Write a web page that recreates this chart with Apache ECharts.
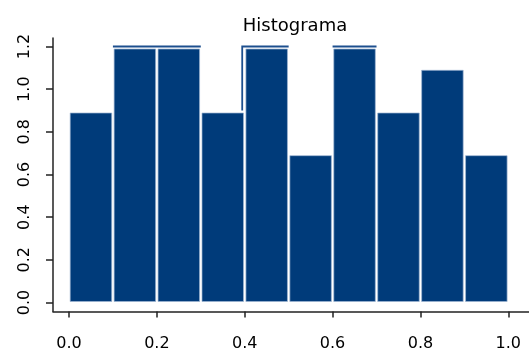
<!DOCTYPE html>
<html>
<head>
<meta charset="utf-8">
<script src="https://cdn.jsdelivr.net/npm/echarts@6/dist/echarts.min.js"></script>
<style>
  html, body { margin: 0; padding: 0; background: #ffffff; }
  #chart { width: 529px; height: 355px; }
</style>
</head>
<body>
<div id="chart"></div>
<script>
// Histogram bins (left/right edges) and their densities
const binStarts = [0.0, 0.1, 0.2, 0.3, 0.4, 0.5, 0.6, 0.7, 0.8, 0.9];
const binEnds   = [0.1, 0.2, 0.3, 0.4, 0.5, 0.6, 0.7, 0.8, 0.9, 1.0];
const density   = [0.9, 1.2, 1.2, 0.9, 1.2, 0.7, 1.2, 0.9, 1.1, 0.7];

// Tick positions for both axes
const xTicks = [0.0, 0.2, 0.4, 0.6, 0.8, 1.0];
const yTicks = [0.0, 0.2, 0.4, 0.6, 0.8, 1.0, 1.2];

// Step-outline pieces traced along the tallest bins
const outlineTraces = [
  [[0.1, 1.2], [0.3, 1.2]],
  [[0.4, 0.9], [0.4, 1.2], [0.5, 1.2]],
  [[0.6, 1.2], [0.7, 1.2]]
];

const BAR_FILL = '#003b7a';
const AXIS_COLOR = '#222222';
const FONT = 'DejaVu Sans';
const X_MIN = -0.0364, X_MAX = 1.0471;
const Y_MIN = -0.0422, Y_MAX = 1.2398;

const chart = echarts.init(document.getElementById('chart'), null, { renderer: 'canvas' });

const barData = binStarts.map((s, i) => [s, binEnds[i], density[i]]);
const outlineData = outlineTraces.map((_, i) => [i]);
const yLabelData = yTicks.map(v => [X_MIN, v]);

chart.setOption({
  animation: false,
  backgroundColor: '#ffffff',
  title: {
    text: 'Histograma',
    left: 290,
    top: 12,
    textAlign: 'center',
    textStyle: { fontFamily: FONT, fontSize: 18, fontWeight: 'normal', color: '#000' }
  },
  grid: {
    left: 53, right: 0, top: 38, bottom: 43.5,
    containLabel: false,
    outerBoundsMode: 'none'
  },
  xAxis: {
    type: 'value',
    min: X_MIN,
    max: X_MAX,
    splitLine: { show: false },
    axisLine: { show: true, onZero: false, lineStyle: { color: AXIS_COLOR, width: 1.5 } },
    axisTick: { show: true, length: 6, customValues: xTicks, lineStyle: { color: AXIS_COLOR, width: 1.5 } },
    axisLabel: {
      customValues: xTicks,
      margin: 24,
      formatter: v => v.toFixed(1),
      fontFamily: FONT, fontSize: 16, color: '#000'
    }
  },
  yAxis: {
    type: 'value',
    min: Y_MIN,
    max: Y_MAX,
    splitLine: { show: false },
    axisLine: { show: true, onZero: false, lineStyle: { color: AXIS_COLOR, width: 1.5 } },
    axisTick: { show: true, length: 7, customValues: yTicks, lineStyle: { color: AXIS_COLOR, width: 1.5 } },
    axisLabel: { show: false }
  },
  series: [
    {
      type: 'custom',
      name: 'bins',
      data: barData,
      encode: { x: [0, 1], y: 2 },
      renderItem: function (params, api) {
        const p0 = api.coord([api.value(0), 0]);
        const p1 = api.coord([api.value(1), api.value(2)]);
        return {
          type: 'rect',
          shape: {
            x: p0[0] + 1.2,
            y: p1[1] + 2.5,
            width: p1[0] - p0[0] - 2.4,
            height: p0[1] - p1[1] - 3.5
          },
          style: { fill: BAR_FILL, stroke: '#9fb6d2', lineWidth: 0.7 }
        };
      }
    },
    {
      type: 'custom',
      name: 'outline',
      data: outlineData,
      encode: { x: 0 },
      renderItem: function (params, api) {
        const trace = outlineTraces[api.value(0)];
        const pts = trace.map(p => api.coord(p));
        // vertical riser sits just left of the bar edge
        if (trace.length === 3) {
          pts[0][0] -= 2.5;
          pts[1][0] -= 2.5;
        }
        return {
          type: 'polyline',
          shape: { points: pts },
          style: { stroke: '#1d4f8e', lineWidth: 1.8, fill: null }
        };
      }
    },
    {
      // rotated y tick labels, reading bottom to top
      type: 'custom',
      name: 'yLabels',
      data: yLabelData,
      encode: { x: 0, y: 1 },
      clip: false,
      renderItem: function (params, api) {
        const p = api.coord([api.value(0), api.value(1)]);
        return {
          type: 'text',
          x: p[0] - 28,
          y: p[1],
          rotation: Math.PI / 2,
          style: {
            text: api.value(1).toFixed(1),
            fontFamily: FONT,
            fontSize: 16,
            fill: '#000',
            align: 'center',
            verticalAlign: 'middle'
          }
        };
      }
    }
  ]
});
</script>
</body>
</html>
